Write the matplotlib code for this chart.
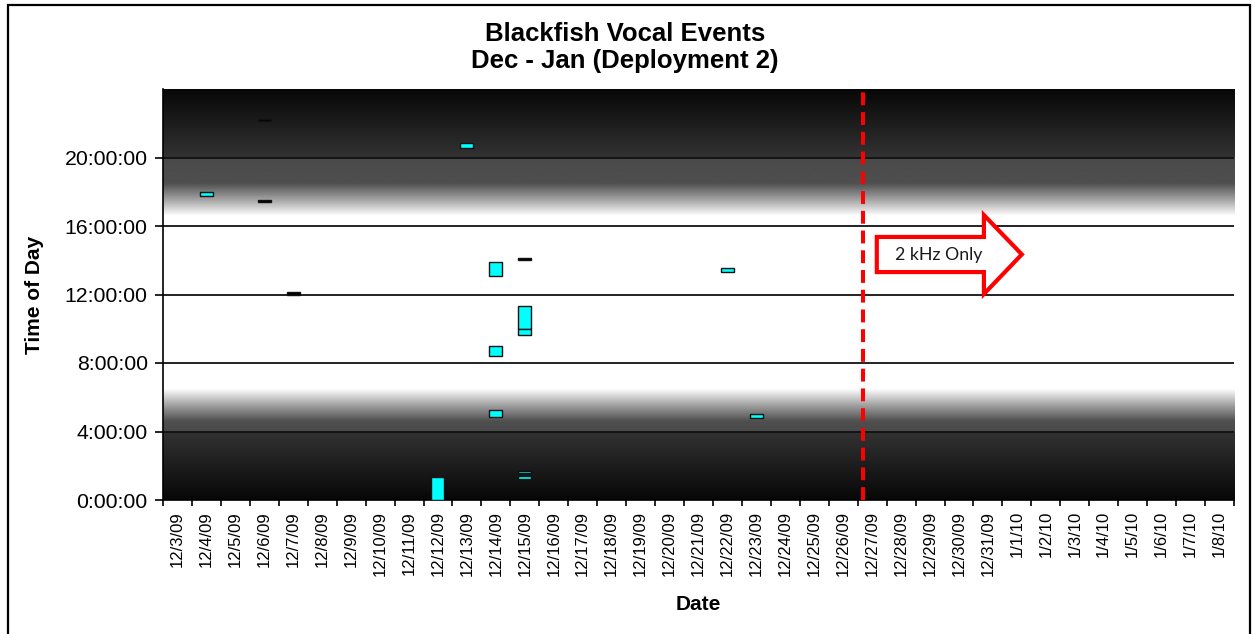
import numpy as np
import matplotlib
matplotlib.use("Agg")
import matplotlib.pyplot as plt
from matplotlib.patches import Polygon, Rectangle

# ---- data -------------------------------------------------------------
dates = ['12/3/09', '12/4/09', '12/5/09', '12/6/09', '12/7/09', '12/8/09',
         '12/9/09', '12/10/09', '12/11/09', '12/12/09', '12/13/09', '12/14/09',
         '12/15/09', '12/16/09', '12/17/09', '12/18/09', '12/19/09', '12/20/09',
         '12/21/09', '12/22/09', '12/23/09', '12/24/09', '12/25/09', '12/26/09',
         '12/27/09', '12/28/09', '12/29/09', '12/30/09', '12/31/09', '1/1/10',
         '1/2/10', '1/3/10', '1/4/10', '1/5/10', '1/6/10', '1/7/10', '1/8/10']

event_dates = ['12/4/09', '12/6/09', '12/6/09', '12/7/09', '12/12/09',
               '12/13/09', '12/14/09', '12/14/09', '12/14/09', '12/15/09',
               '12/15/09', '12/15/09', '12/15/09', '12/15/09', '12/22/09',
               '12/23/09']
event_start = [17.77, 22.15, 17.43, 11.97, 0.00, 20.55, 13.10, 8.42, 4.82,
               14.03, 9.97, 9.66, 1.57, 1.22, 13.30, 4.76]
event_end = [18.00, 22.25, 17.53, 12.15, 1.35, 20.83, 13.90, 8.98, 5.28,
             14.13, 11.35, 9.97, 1.72, 1.43, 13.53, 5.00]
event_kind = ['c', 'k', 'k', 'k', 'c', 'c', 'c', 'c', 'c',
              'k', 'c', 'c', 'c', 'c', 'c', 'c']

hour_ticks = [0, 4, 8, 12, 16, 20]
hour_labels = ['0:00:00', '4:00:00', '8:00:00', '12:00:00', '16:00:00', '20:00:00']

cutover_x = 24.2          # start of 2 kHz-only recording (category units)

# ---- figure -----------------------------------------------------------
W, H = 1255, 634
fig = plt.figure(figsize=(W / 100, H / 100), dpi=100)
fig.patch.set_facecolor('white')
ax = fig.add_axes([163 / W, 1 - 500 / H, (1234 - 163) / W, (500 - 89) / H])

n = len(dates)
ax.set_xlim(0, n)
ax.set_ylim(0, 24)

# day / night shading
prof_h = [0, 4, 4, 4.6, 5.5, 6.5, 16.6, 17.6, 18.5, 20, 20, 24]
prof_v = [0.03, 0.20, 0.29, 0.31, 0.62, 1.0, 1.0, 0.62, 0.31, 0.29, 0.20, 0.03]
hh = np.linspace(0, 24, 2401)
shade = np.interp(hh, prof_h, prof_v)
ax.imshow(shade[:, None], extent=[0, n, 0, 24], origin='lower', aspect='auto',
          cmap='gray', vmin=0, vmax=1, zorder=0, interpolation='bilinear')

# grid lines
for h in hour_ticks[1:]:
    ax.axhline(h, color='#111111', lw=1.3, zorder=1)

# vocal events as floating bars
xpos = [dates.index(d) + 0.5 for d in event_dates]
heights = [e - s for s, e in zip(event_start, event_end)]
colors = ['#00ffff' if k == 'c' else '#000000' for k in event_kind]
ax.bar(xpos, heights, bottom=event_start, width=0.45, color=colors,
       edgecolor='#111111', linewidth=1.0, zorder=3)

# cutover marker
ax.axvline(cutover_x, color='#ff0000', lw=2.9, dashes=(3.2, 1.7), zorder=4)

# block arrow annotation
arrow_pts = [(24.66, 13.31), (24.66, 15.36), (28.36, 15.36), (28.36, 16.64),
             (29.67, 14.34), (28.36, 12.03), (28.36, 13.31)]
ax.add_patch(Polygon(arrow_pts, closed=True, facecolor='white',
                     edgecolor='#ff0000', lw=3.0, joinstyle='miter', zorder=5))
ax.text(26.8, 14.32, '2 kHz Only', family='Lato', fontsize=12.8, color='#1a1a1a',
        ha='center', va='center', zorder=6)

# axes styling
for s in ('top', 'right'):
    ax.spines[s].set_visible(False)
for s in ('left', 'bottom'):
    ax.spines[s].set_color('black')
    ax.spines[s].set_linewidth(1.2)

ax.set_yticks(hour_ticks)
ax.set_yticklabels(hour_labels, family='Liberation Sans', fontsize=15.3)
ax.tick_params(axis='y', length=5.5, width=1.2, pad=5.5, color='black')

ax.set_xticks(np.arange(0, n + 1))
ax.set_xticklabels([])
ax.tick_params(axis='x', which='major', length=4, width=1.2, color='black')
ax.set_xticks(np.arange(n) + 0.5, minor=True)
ax.set_xticklabels(dates, minor=True, rotation=90, family='Liberation Sans',
                   fontsize=12)
ax.tick_params(axis='x', which='minor', length=0, pad=8)

ax.set_xlabel('Date', family='Liberation Sans', fontsize=15, fontweight='bold')
ax.xaxis.label.set_verticalalignment('center')
ax.xaxis.set_label_coords(0.5, -(605 - 500) / 411)
ax.set_ylabel('Time of Day', family='Liberation Sans', fontsize=15,
              fontweight='bold')
ax.yaxis.label.set_verticalalignment('center')
ax.yaxis.set_label_coords((35 - 163) / 1071, 0.5)

fig.text(625 / W, 1 - 34 / H, 'Blackfish Vocal Events', ha='center',
         va='center', family='Liberation Sans', fontsize=18.5, fontweight='bold')
fig.text(625 / W, 1 - 61 / H, 'Dec - Jan (Deployment 2)', ha='center',
         va='center', family='Liberation Sans', fontsize=18.5, fontweight='bold')

# outer frame
fig.add_artist(Rectangle((8 / W, -0.02), (1250 - 8) / W, 1.02 - 5 / H,
                         transform=fig.transFigure, fill=False,
                         edgecolor='black', lw=1.6))

fig.savefig('out.png', dpi=100)
